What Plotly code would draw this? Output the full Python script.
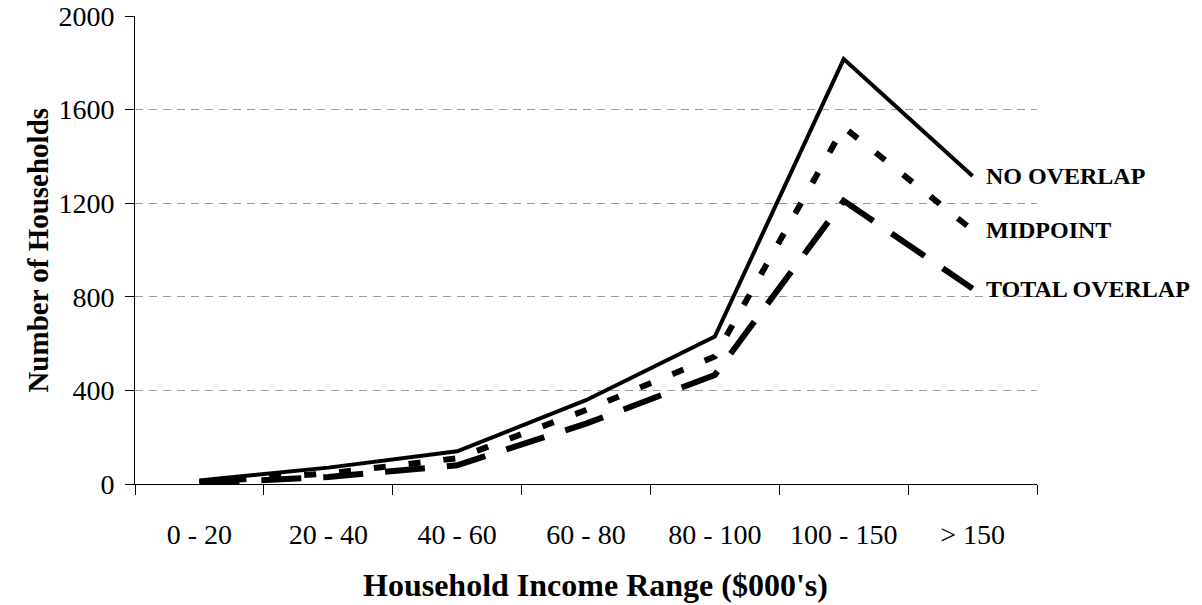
import plotly.graph_objects as go

# Household income brackets ($000's)
income_ranges = ["0 - 20", "20 - 40", "40 - 60", "60 - 80", "80 - 100", "100 - 150", "> 150"]

# Number of households under each overlap assumption
no_overlap = [15, 70, 140, 358, 630, 1816, 1316]
midpoint = [8, 45, 110, 316, 545, 1525, 1085]
total_overlap = [3, 30, 80, 258, 466, 1210, 835]

series_names = ["NO OVERLAP", "MIDPOINT", "TOTAL OVERLAP"]
y_ticks = [0, 400, 800, 1200, 1600, 2000]

SERIF = "Liberation Serif, Times New Roman, serif"

fig = go.Figure()

styles = [
    (no_overlap, dict(color="black", width=4, dash="solid")),
    (midpoint, dict(color="black", width=6, dash="12px,23px")),
    (total_overlap, dict(color="black", width=6, dash="40px,22px")),
]

for (values, line), name in zip(styles, series_names):
    fig.add_trace(go.Scatter(
        x=income_ranges, y=values, mode="lines", name=name,
        line=line, showlegend=False, hoverinfo="x+y+name",
    ))
    # End-of-line label
    fig.add_annotation(
        x=income_ranges[-1], y=values[-1], xref="x", yref="y",
        text="<b>" + name + "</b>", showarrow=False,
        xanchor="left", yanchor="middle", xshift=11,
        font=dict(family=SERIF, size=24, color="black"),
    )

# Axis titles
fig.add_annotation(
    x=0.511, y=-0.216, xref="paper", yref="paper",
    text="<b>Household Income Range ($000's)</b>", showarrow=False,
    xanchor="center", yanchor="middle",
    font=dict(family=SERIF, size=32, color="black"),
)
fig.add_annotation(
    x=-0.108, y=0.5, xref="paper", yref="paper",
    text="<b>Number of Households</b>", showarrow=False, textangle=-90,
    xanchor="center", yanchor="middle",
    font=dict(family=SERIF, size=29, color="black"),
)

fig.update_xaxes(
    type="category", categoryorder="array", categoryarray=income_ranges,
    range=[-0.5, len(income_ranges) - 0.5],
    showline=True, linecolor="black", linewidth=1,
    ticks="outside", ticklen=10, tickcolor="black", tickwidth=1,
    tickson="boundaries", showgrid=False, zeroline=False,
    tickfont=dict(family=SERIF, size=28, color="black"),
    ticklabelstandoff=25, automargin=False,
)
fig.update_yaxes(
    range=[0, 2000], tickvals=y_ticks, ticktext=[str(v) for v in y_ticks],
    showline=True, linecolor="black", linewidth=1,
    ticks="outside", ticklen=9, tickcolor="black", tickwidth=1,
    showgrid=True, gridcolor="#9a9a9a", gridwidth=1, griddash="8px,6px",
    zeroline=False,
    tickfont=dict(family=SERIF, size=28, color="black"),
    ticklabelstandoff=5, automargin=False,
)

fig.update_layout(
    width=1202, height=605,
    margin=dict(l=135, r=165, t=16, b=121, pad=0, autoexpand=False),
    paper_bgcolor="white", plot_bgcolor="white",
    showlegend=False,
)

fig.write_html("out.html")
